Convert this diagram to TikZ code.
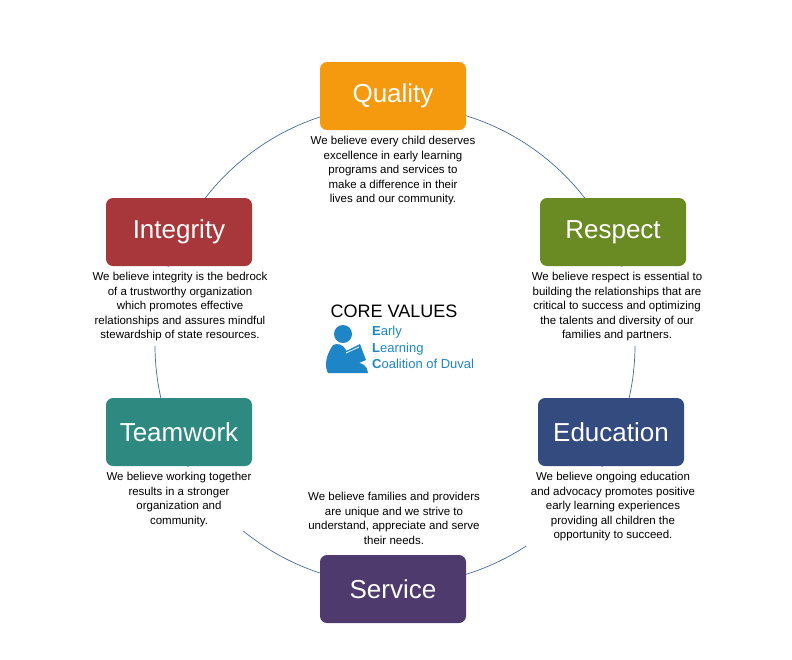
\documentclass[tikz,border=0pt]{standalone}
\usepackage{fontspec}
\setmainfont{Liberation Sans}
\definecolor{cq}{HTML}{F59A0E}
\definecolor{cr}{HTML}{6A8A24}
\definecolor{ci}{HTML}{A8373B}
\definecolor{ct}{HTML}{2E8A80}
\definecolor{ce}{HTML}{344B80}
\definecolor{cs}{HTML}{4F3A6E}
\definecolor{cl}{HTML}{4A6A98}
\definecolor{logo}{HTML}{1E86C6}
\tikzset{
  vbox/.style={rounded corners=7pt, minimum width=146pt, minimum height=68pt, text=white, font=\fontsize{26}{28}\selectfont, inner sep=0pt},
  desc/.style={align=center, font=\fontsize{11.5}{14.5}\selectfont, fill=white, inner sep=5pt, anchor=north},
}
\begin{document}
\begin{tikzpicture}[x=1pt,y=-1pt]
\useasboundingbox (0,0) rectangle (792,659);
\draw[cl, line width=0.7pt] (395,345) circle (240);
\node[desc] (dq) at (393,131) {We believe every child deserves\\excellence in early learning\\programs and services to\\make a difference in their\\lives and our community.};
\node[desc] (dr) at (617,267) {We believe respect is essential to\\building the relationships that are\\critical to success and optimizing\\the talents and diversity of our\\families and partners.};
\node[desc] (di) at (180,267) {We believe integrity is the bedrock\\of a trustworthy organization\\which promotes effective\\relationships and assures mindful\\stewardship of state resources.};
\node[desc] (dt) at (179,467) {We believe working together\\results in a stronger\\organization and\\community.};
\node[desc] (de) at (613,467) {We believe ongoing education\\and advocacy promotes positive\\early learning experiences\\providing all children the\\opportunity to succeed.};
\node[desc] (ds) at (394,487) {We believe families and providers\\are unique and we strive to\\understand, appreciate and serve\\their needs.};
\node[vbox, fill=cq] (q) at (393,96) {Quality};
\node[vbox, fill=cr] (r) at (613,232) {Respect};
\node[vbox, fill=ci] (i) at (179,232) {Integrity};
\node[vbox, fill=ct] (t) at (179,432) {Teamwork};
\node[vbox, fill=ce] (e) at (611,432) {Education};
\node[vbox, fill=cs] (s) at (393,589) {Service};
\node[font=\fontsize{18}{20}\selectfont] (cv) at (394,311) {CORE VALUES};
\node[anchor=north west, align=left, text=logo, font=\fontsize{13}{16.5}\selectfont, inner sep=0pt] (el) at (372,326) {\textbf{E}arly\\\textbf{L}earning\\\textbf{C}oalition of Duval};
% logo icon
\fill[logo] (343,334) circle (9);
\fill[logo] (333,345) .. controls (326,355) and (324,366) .. (328,373) -- (368,373) .. controls (368,366) and (362,362) .. (352,362) -- (346,350) .. controls (343,344) and (337,343) .. (333,345) -- cycle;
\fill[logo] (344,352) -- (360,344) -- (366,360) -- (352,366) -- cycle;
\draw[white, line width=0.8pt] (346,353) -- (359,347);
\end{tikzpicture}
\end{document}
